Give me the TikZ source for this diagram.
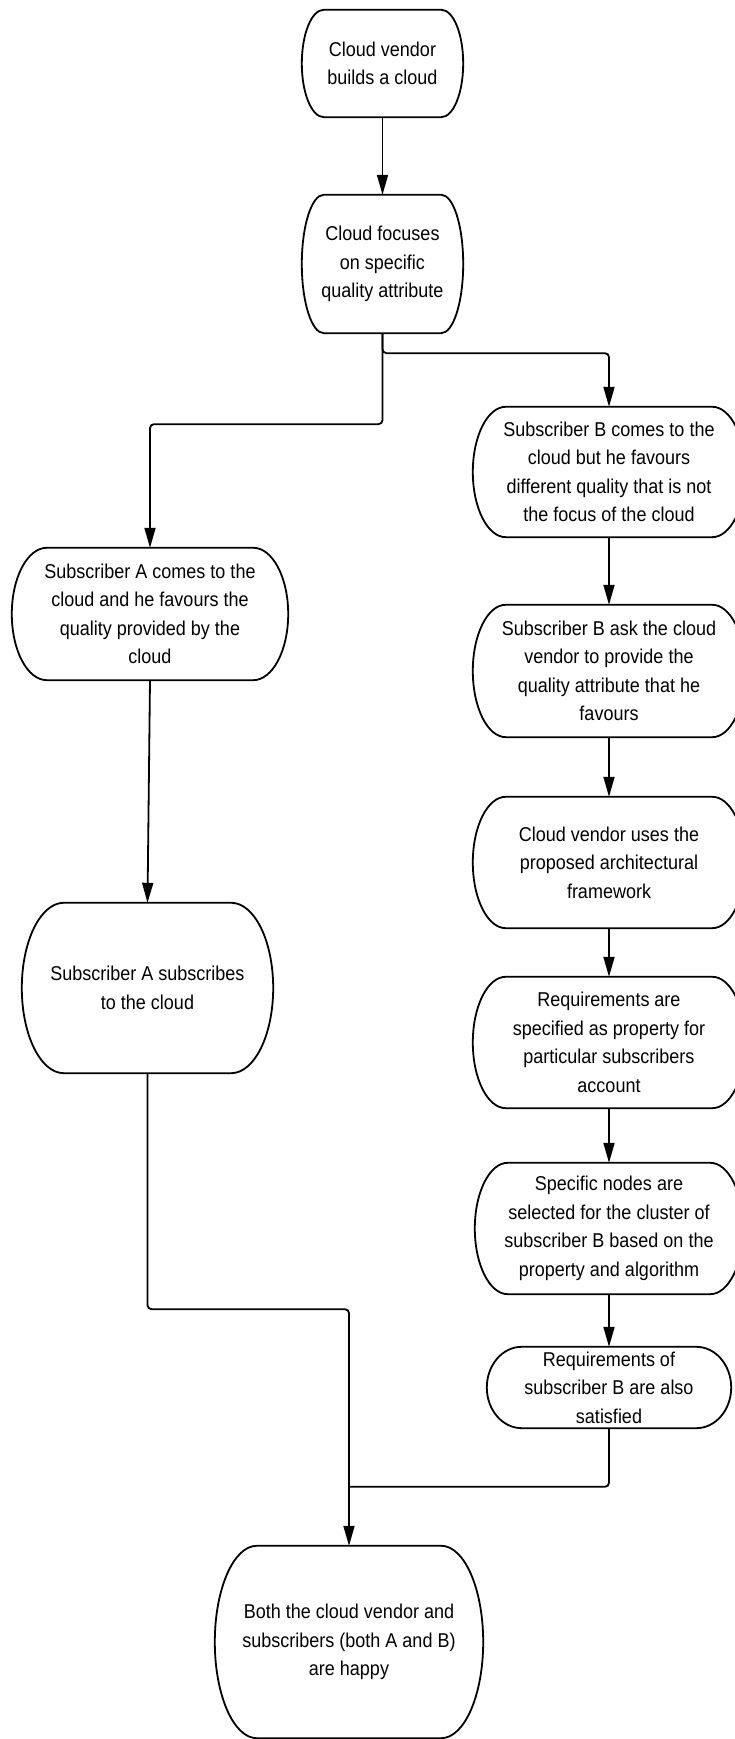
\documentclass[tikz,border=0pt]{standalone}
\usepackage{fontspec}
\setmainfont[FakeStretch=0.9]{Liberation Sans}
\usetikzlibrary{arrows.meta,calc}

\tikzset{
    box/.style={align=center, inner sep=0pt, font=\fontsize{20}{28.5}\selectfont},
    outline/.style={line width=1.8pt},
    conn/.style={line width=1.8pt, rounded corners=4pt, -{Triangle[length=20pt,width=11pt]}},
    joinline/.style={line width=1.8pt, rounded corners=4pt}
}

\begin{document}
\begin{tikzpicture}[x=1pt,y=1pt]

\path[fill=white,use as bounding box] (0,0) rectangle (734,1739);

% Top of the flow
\node[box, minimum width=161pt, minimum height=107pt] (start) at (382.5,1675.5)
    {Cloud vendor\\builds a cloud};
\node[box, minimum width=161pt, minimum height=138pt] (focus) at (382.5,1475)
    {Cloud focuses\\on specific\\quality attribute};

% Subscriber A
\node[box, minimum width=276pt, minimum height=132pt] (subA) at (150,1125)
    {Subscriber A comes to the\\cloud and he favours the\\quality provided by the\\cloud};
\node[box, minimum width=251pt, minimum height=170pt] (subscribe) at (147.5,751)
    {Subscriber A subscribes\\to the cloud};

% Subscriber B
\node[box, minimum width=272pt, minimum height=130pt] (comesB) at (609,1267)
    {Subscriber B comes to the\\cloud but he favours\\different quality that is not\\the focus of the cloud};
\node[box, minimum width=272pt, minimum height=132pt] (askB) at (609,1068)
    {Subscriber B ask the cloud\\vendor to provide the\\quality attribute that he\\favours};
\node[box, minimum width=272pt, minimum height=131pt] (vendor) at (609,876.5)
    {Cloud vendor uses the\\proposed architectural\\framework};
\node[box, minimum width=272pt, minimum height=131pt] (reqs) at (609,696.5)
    {Requirements are\\specified as property for\\particular subscribers\\account};
\node[box, minimum width=268pt, minimum height=131pt] (select) at (609,510.5)
    {Specific nodes are\\selected for the cluster of\\subscriber B based on the\\property and algorithm};
\node[box, minimum width=244pt, minimum height=81pt] (satisfied) at (609,351.5)
    {Requirements of\\subscriber B are also\\satisfied};

% End
\node[box, minimum width=268pt, minimum height=192pt] (happy) at (349,97)
    {Both the cloud vendor and\\subscribers (both A and B)\\are happy};

% Outline of the boxes: flat top and bottom, elliptic sides
\foreach \nd/\rx in {start/22, focus/22, subA/35, subscribe/42, comesB/33, askB/33,
                     vendor/33, reqs/33, select/33, satisfied/35, happy/42}
    \draw[outline] let \p1=(\nd.north east), \p2=(\nd.south west), \n1={(\y1-\y2)/2} in
        (\x2+\rx pt,\y1) -- (\x1-\rx pt,\y1)
        arc[start angle=90, end angle=-90, x radius=\rx pt, y radius=\n1]
        -- (\x2+\rx pt,\y2)
        arc[start angle=270, end angle=90, x radius=\rx pt, y radius=\n1] -- cycle;

% Connectors
\draw[conn] (start) -- (focus);
\draw[conn] (focus.south) -- ++(0,-20) -| (comesB.north);
\draw[conn] (focus.south) -- ++(0,-91) -| (subA.north);
\draw[conn] (subA.south) -- (subscribe.north);
\draw[conn] (comesB) -- (askB);
\draw[conn] (askB) -- (vendor);
\draw[conn] (vendor) -- (reqs);
\draw[conn] (reqs) -- (select);
\draw[conn] (select) -- (satisfied);

\coordinate (join) at ($(happy.north)+(0,59)$);
\draw[joinline] (satisfied.south) |- (join);
\draw[conn] (subscribe.south) -- ++(0,-236) -| (happy.north);

\end{tikzpicture}
\end{document}
